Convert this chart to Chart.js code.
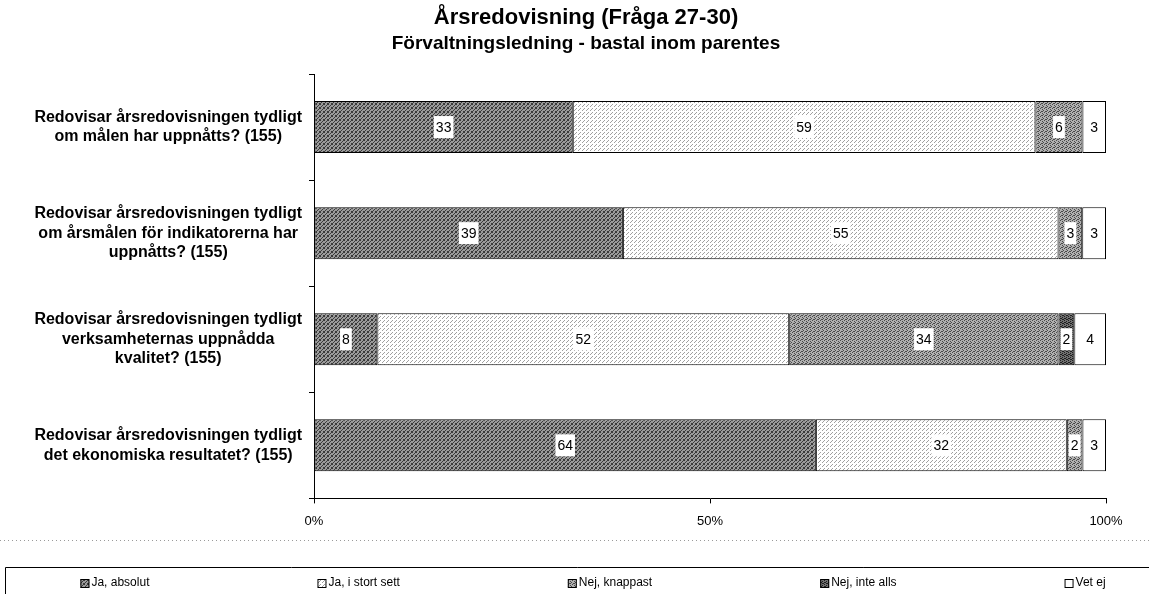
<!DOCTYPE html>
<html>
<head>
<meta charset="utf-8">
<script src="https://cdn.jsdelivr.net/npm/chart.js@4.4.0/dist/chart.umd.min.js"></script>
<style>
  html, body { margin: 0; padding: 0; background: #fff; }
  #wrap { width: 1149px; height: 594px; }
</style>
</head>
<body>
<div id="wrap"><canvas id="chart"></canvas></div>
<script>
const categories = [
  ["Redovisar årsredovisningen tydligt", "om målen har uppnåtts? (155)"],
  ["Redovisar årsredovisningen tydligt", "om årsmålen för indikatorerna har", "uppnåtts? (155)"],
  ["Redovisar årsredovisningen tydligt", "verksamheternas uppnådda", "kvalitet? (155)"],
  ["Redovisar årsredovisningen tydligt", "det ekonomiska resultatet? (155)"]
];
const seriesNames = ["Ja, absolut", "Ja, i stort sett", "Nej, knappast", "Nej, inte alls", "Vet ej"];
const jaAbsolut = [33, 39, 8, 64];
const jaIStortSett = [59, 55, 52, 32];
const nejKnappast = [6, 3, 34, 2];
const nejInteAlls = [0, 0, 2, 0];
const vetEj = [3, 3, 4, 3];
const xTicks = [0, 50, 100];

const titleText = "Årsredovisning (Fråga 27-30)";
const subtitleText = "Förvaltningsledning - bastal inom parentes";

const FONT = '"Liberation Sans", Arial, sans-serif';

// small pixel patterns to mimic the printed shading
function pattern(bg, fg, cells, size) {
  const c = document.createElement("canvas");
  c.width = size; c.height = size;
  const g = c.getContext("2d");
  g.fillStyle = bg;
  g.fillRect(0, 0, size, size);
  g.fillStyle = fg;
  cells.forEach(([x, y]) => g.fillRect(x, y, 1, 1));
  return g.createPattern(c, "repeat");
}

const fills = [
  pattern("#9a9a9a", "#3a3a3a", [[0,0],[2,1],[1,2],[3,3],[3,0],[0,3]], 4),
  pattern("#ffffff", "#a0a0a0", [[0,0],[2,2],[3,1]], 4),
  pattern("#b0b0b0", "#4a4a4a", [[0,0],[2,1],[1,3],[3,2],[2,3]], 4),
  pattern("#707070", "#202020", [[0,0],[2,1],[1,2],[3,3],[2,3],[0,2]], 4),
  "#ffffff"
];

const series = [jaAbsolut, jaIStortSett, nejKnappast, nejInteAlls, vetEj];
const rowTotals = categories.map((_, i) => series.reduce((s, arr) => s + arr[i], 0));

const datasets = series.map((arr, k) => ({
  label: seriesNames[k],
  data: arr.map((v, i) => v / rowTotals[i] * 100),
  counts: arr,
  backgroundColor: fills[k],
  borderColor: "#000",
  borderWidth: 1,
  borderSkipped: false,
  barPercentage: 1,
  categoryPercentage: 0.49
}));

const boxLabels = {
  id: "boxLabels",
  afterDatasetsDraw(chart) {
    const ctx = chart.ctx;
    ctx.save();
    ctx.font = "14px " + FONT;
    ctx.textAlign = "center";
    ctx.textBaseline = "middle";
    chart.data.datasets.forEach((ds, i) => {
      chart.getDatasetMeta(i).data.forEach((bar, j) => {
        const v = ds.counts[j];
        if (!v) return;
        const cx = (bar.x + bar.base) / 2;
        const t = String(v);
        const w = ctx.measureText(t).width + 4;
        ctx.fillStyle = "#fff";
        ctx.fillRect(cx - w / 2, bar.y - 11, w, 22);
        ctx.fillStyle = "#000";
        ctx.fillText(t, cx, bar.y + 1);
      });
    });
    ctx.restore();
  }
};

// titles drawn by hand so they sit centred a bit right of the canvas middle
const titles = {
  id: "titles",
  afterDraw(chart) {
    const ctx = chart.ctx;
    ctx.save();
    ctx.fillStyle = "#000";
    ctx.textAlign = "center";
    ctx.textBaseline = "middle";
    ctx.font = "bold 22px " + FONT;
    ctx.fillText(titleText, 586, 18);
    ctx.font = "bold 19px " + FONT;
    ctx.fillText(subtitleText, 586, 44);
    ctx.restore();
  }
};

const bottomLegend = {
  id: "bottomLegend",
  afterDraw(chart) {
    const ctx = chart.ctx;
    ctx.save();
    // dotted separator
    ctx.strokeStyle = "#9a9a9a";
    ctx.lineWidth = 1;
    ctx.setLineDash([1, 3]);
    ctx.beginPath();
    ctx.moveTo(0, 540.5);
    ctx.lineTo(1149, 540.5);
    ctx.stroke();
    ctx.setLineDash([]);
    // legend frame
    ctx.strokeStyle = "#000";
    ctx.beginPath();
    ctx.moveTo(5.5, 594);
    ctx.lineTo(5.5, 567.5);
    ctx.lineTo(1149, 567.5);
    ctx.stroke();
    // items
    ctx.font = "12px " + FONT;
    ctx.textBaseline = "middle";
    ctx.textAlign = "left";
    const box = 9, gapText = 2;
    const widths = chart.data.datasets.map(ds => box + gapText + ctx.measureText(ds.label).width);
    const gap = 168;
    const total = widths.reduce((a, b) => a + b, 0) + gap * (widths.length - 1);
    let x = 593 - total / 2;
    const y = 583;
    chart.data.datasets.forEach((ds, i) => {
      ctx.fillStyle = ds.backgroundColor;
      ctx.fillRect(x, y - 4, box, box);
      ctx.strokeStyle = "#000";
      ctx.strokeRect(x + 0.5, y - 3.5, box - 1, box - 1);
      ctx.fillStyle = "#000";
      ctx.fillText(ds.label, x + box + gapText, y);
      x += widths[i] + gap;
    });
    ctx.restore();
  }
};

new Chart(document.getElementById("chart"), {
  type: "bar",
  data: { labels: categories, datasets },
  plugins: [boxLabels, titles, bottomLegend],
  options: {
    indexAxis: "y",
    responsive: true,
    maintainAspectRatio: false,
    animation: false,
    layout: { padding: { left: 20, right: 43, top: 74, bottom: 55 } },
    plugins: {
      legend: { display: false },
      tooltip: { enabled: false }
    },
    scales: {
      x: {
        stacked: true,
        min: 0,
        max: 100,
        afterBuildTicks: s => { s.ticks = xTicks.map(v => ({ value: v })); },
        ticks: {
          color: "#000",
          font: { family: FONT, size: 13 },
          padding: 10,
          callback: v => v + "%"
        },
        grid: { drawOnChartArea: false, tickLength: 5, color: "#000" },
        border: { color: "#000" }
      },
      y: {
        stacked: true,
        afterFit: s => { s.width = 294; },
        ticks: {
          crossAlign: "center",
          color: "#000",
          padding: 7,
          font: { family: FONT, size: 16, weight: "bold", lineHeight: 1.22 }
        },
        grid: { drawOnChartArea: false, tickLength: 5, offset: true, color: "#000" },
        border: { color: "#000" }
      }
    }
  }
});
</script>
</body>
</html>
